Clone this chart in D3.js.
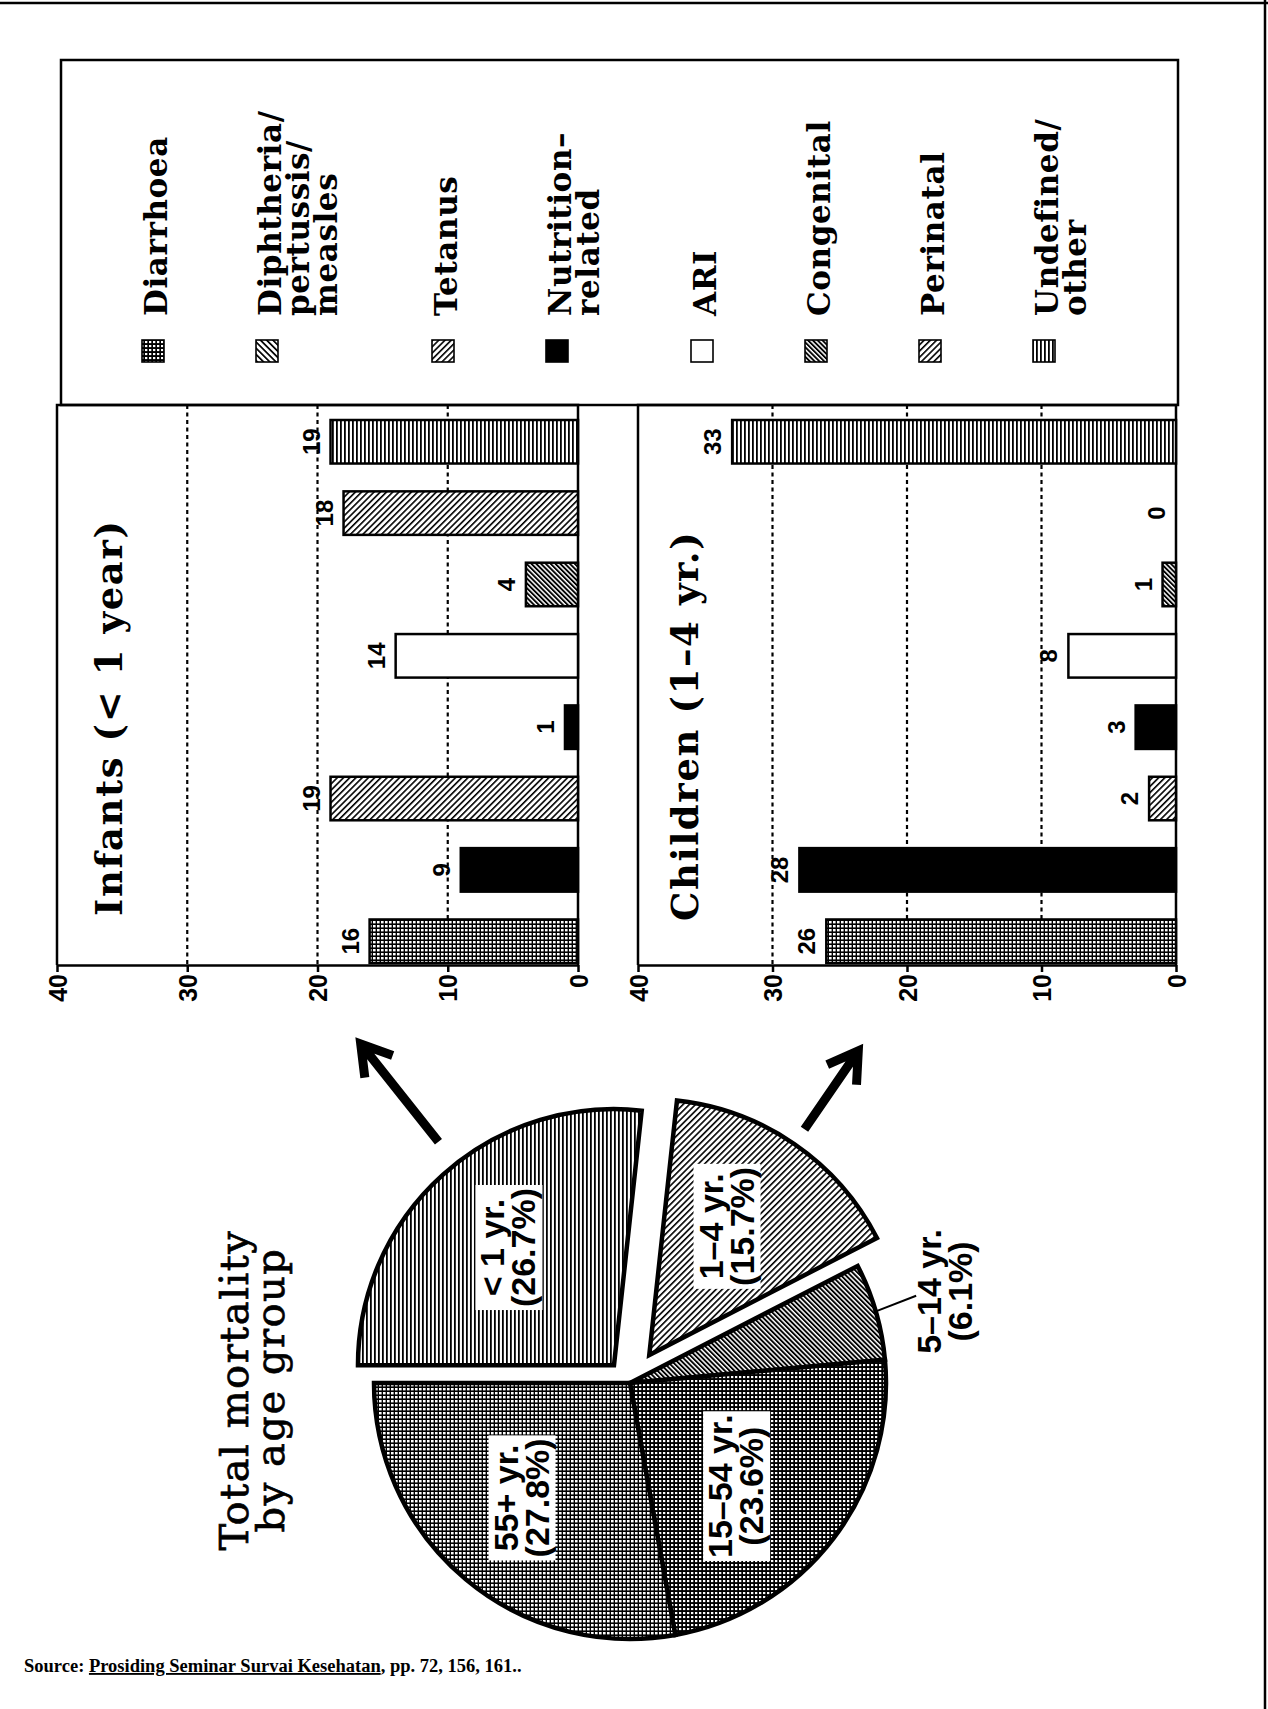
<!DOCTYPE html>
<html>
<head>
<meta charset="utf-8">
<script src="https://cdn.jsdelivr.net/npm/d3@7"></script>
<style>
  html, body { margin: 0; padding: 0; background: #fff; }
  svg { display: block; }
</style>
</head>
<body>
<svg id="chart" width="1268" height="1709"></svg>
<script>
// ---- data -------------------------------------------------------------
const causes = ["Diarrhoea", "Diphtheria/pertussis/measles", "Tetanus", "Nutrition-related",
                "ARI", "Congenital", "Perinatal", "Undefined/other"];
const causeLabelLines = [["Diarrhoea"], ["Diphtheria/", "pertussis/", "measles"], ["Tetanus"],
                         ["Nutrition–", "related"], ["ARI"], ["Congenital"], ["Perinatal"],
                         ["Undefined/", "other"]];
const infantValues = [16, 9, 19, 1, 14, 4, 18, 19];
const childValues  = [26, 28, 2, 3, 8, 1, 0, 33];
const valueTicks = [0, 10, 20, 30, 40];
const tickLabels = ["0", "10", "20", "30", "40"];
const gridValues = [10, 20, 30];

const ageGroups = ["< 1 yr.", "1–4 yr.", "5–14 yr.", "15–54 yr.", "55+ yr."];
const agePercents = [26.7, 15.7, 6.1, 23.6, 27.8];
const agePercentLabels = ["(26.7%)", "(15.7%)", "(6.1%)", "(23.6%)", "(27.8%)"];

// ---- styles -----------------------------------------------------------
const legendFills = ["url(#grid)", "url(#diagB)", "url(#diagA)", "#000", "#fff", "url(#diagDense)", "url(#diagA)", "url(#vert)"];
const barFills    = ["url(#gridLight)", "#000", "url(#diagA)", "#000", "#fff", "url(#diagDense)", "url(#diagA)", "url(#vert)"];
const sliceFills  = ["url(#vert)", "url(#diagA)", "url(#diagDense)", "url(#grid)", "url(#gridLight)"];
const serif = "'DejaVu Serif', 'Liberation Serif', serif";
const sans = "'Liberation Sans', Arial, sans-serif";

const svg = d3.select("#chart");
const defs = svg.append("defs");

function hatch(id, angle, period, width) {
  const p = defs.append("pattern").attr("id", id)
    .attr("patternUnits", "userSpaceOnUse")
    .attr("width", period).attr("height", period)
    .attr("patternTransform", `rotate(${angle})`);
  p.append("rect").attr("width", period).attr("height", period).attr("fill", "#fff");
  p.append("rect").attr("width", width).attr("height", period).attr("fill", "#000");
}
hatch("vert", 0, 4, 1.8);
hatch("diagA", 45, 4.4, 1.6);
hatch("diagB", -45, 4.4, 1.7);
hatch("diagDense", -45, 3.4, 1.9);
function grid(id, cell, hole) {
  const p = defs.append("pattern").attr("id", id)
    .attr("patternUnits", "userSpaceOnUse").attr("width", cell).attr("height", cell);
  p.append("rect").attr("width", cell).attr("height", cell).attr("fill", "#000");
  p.append("rect").attr("x", 1).attr("y", 1).attr("width", hole).attr("height", hole - 0.2).attr("fill", "#fff");
}
grid("grid", 4, 2.3);
grid("gridLight", 4, 2.6);

// ---- page frame -------------------------------------------------------
svg.append("line").attr("x1", 0).attr("x2", 1268).attr("y1", 3).attr("y2", 3)
  .attr("stroke", "#000").attr("stroke-width", 2.5);
svg.append("line").attr("x1", 1265).attr("x2", 1265).attr("y1", 0).attr("y2", 1709)
  .attr("stroke", "#000").attr("stroke-width", 2.5);

// ---- legend -----------------------------------------------------------
const legendBox = { x: 61, y: 60, w: 1117, h: 345 };
svg.append("rect").attr("x", legendBox.x).attr("y", legendBox.y)
  .attr("width", legendBox.w).attr("height", legendBox.h)
  .attr("fill", "none").attr("stroke", "#000").attr("stroke-width", 2.5);

let extraLines = 0;
causes.forEach((c, i) => {
  const sx = 142 + 114 * i + 31 * extraLines;
  extraLines += causeLabelLines[i].length - 1;
  svg.append("rect").attr("x", sx).attr("y", 340).attr("width", 22).attr("height", 22)
    .attr("fill", legendFills[i]).attr("stroke", "#000").attr("stroke-width", 1.6);
  const t = svg.append("text")
    .attr("transform", `translate(${sx + 25},316) rotate(-90)`)
    .attr("font-family", serif).attr("font-weight", "bold").attr("font-size", 31)
    .attr("letter-spacing", 0.6)
    .attr("text-anchor", "start");
  causeLabelLines[i].forEach((ln, k) => {
    t.append("tspan").attr("x", 0).attr("y", k * 28).text(ln);
  });
});

// ---- horizontal bar panels ---------------------------------------------
function panel(opts) {
  const { values, x40, x0, top, bottom, barTop, barBottom, title, titleX, titleY } = opts;
  const g = svg.append("g");
  const x = d3.scaleLinear().domain([0, 40]).range([x0, x40]);
  const y = d3.scaleBand().domain(causes).range([barBottom, barTop]).paddingInner(0.39).paddingOuter(0);

  // frame: left edge, top edge, zero baseline
  g.append("path")
    .attr("d", `M${x(40)},${bottom} V${top} H${x(0)} V${bottom}`)
    .attr("fill", "none").attr("stroke", "#000").attr("stroke-width", 2.5);

  // dotted gridlines
  g.selectAll("line.grid").data(gridValues).join("line").attr("class", "grid")
    .attr("x1", d => x(d)).attr("x2", d => x(d))
    .attr("y1", top).attr("y2", bottom)
    .attr("stroke", "#000").attr("stroke-width", 2.2).attr("stroke-dasharray", "4 3.5");

  // value axis along the bottom, labels turned to read upward
  const axis = d3.axisBottom(x).tickValues(valueTicks)
    .tickFormat(d => tickLabels[valueTicks.indexOf(d)])
    .tickSize(7).tickSizeOuter(0);
  const ag = g.append("g").attr("transform", `translate(0,${bottom})`).call(axis);
  ag.select(".domain").attr("stroke", "#000").attr("stroke-width", 2.5);
  ag.selectAll(".tick line").attr("stroke", "#000").attr("stroke-width", 2.5);
  ag.selectAll(".tick text")
    .attr("transform", "rotate(-90)")
    .attr("x", -9).attr("y", 0).attr("dy", "0.36em")
    .attr("text-anchor", "end")
    .attr("font-family", sans).attr("font-weight", "bold").attr("font-size", 25).attr("fill", "#000");

  // bars (zero-valued causes get no bar)
  g.selectAll("rect.bar").data(values.map((v, i) => ({ v, i })).filter(d => d.v > 0))
    .join("rect").attr("class", "bar")
    .attr("x", d => x(d.v)).attr("width", d => x(0) - x(d.v))
    .attr("y", d => y(causes[d.i])).attr("height", y.bandwidth())
    .attr("fill", d => barFills[d.i])
    .attr("stroke", "#000").attr("stroke-width", 2.5);

  // value labels beyond the bar ends
  g.selectAll("text.val").data(values).join("text").attr("class", "val")
    .attr("transform", (d, i) => `translate(${x(d) - 11},${y(causes[i]) + y.bandwidth() / 2}) rotate(-90)`)
    .attr("text-anchor", "middle")
    .attr("font-family", sans).attr("font-weight", "bold").attr("font-size", 24)
    .text(d => d);

  // panel title
  g.append("text")
    .attr("transform", `translate(${titleX},${titleY}) rotate(-90)`)
    .attr("text-anchor", "start")
    .attr("font-family", serif).attr("font-weight", "bold").attr("font-size", 37)
    .attr("letter-spacing", 1.6)
    .text(title);
}

panel({ values: infantValues, x40: 57, x0: 578, top: 405, bottom: 965,
        barTop: 420, barBottom: 963, title: "Infants (< 1 year)", titleX: 122, titleY: 916 });
panel({ values: childValues, x40: 638, x0: 1176, top: 405, bottom: 965,
        barTop: 420, barBottom: 963, title: "Children (1–4 yr.)", titleX: 698, titleY: 921 });

// ---- pie of total mortality by age group -------------------------------
const pieC = { x: 630, y: 1383 };
const R = 256;
const explode = [24, 34, 0, 0, 0];
const arrowLen = [125, 95, 0, 0, 0];
const labelR = [158, 150, R + 72, 148, 158];
const labelTurn = [0, -0.05, 0, 0.12, 0.06];
const pie = d3.pie().sort(null).value(d => d)
  .startAngle(-Math.PI / 2).endAngle(1.5 * Math.PI);
const arcs = pie(agePercents);
const arc = d3.arc().innerRadius(0).outerRadius(R);
const pg = svg.append("g").attr("transform", `translate(${pieC.x},${pieC.y})`);

function dir(a) { return [Math.sin(a), -Math.cos(a)]; }

arcs.forEach((a, i) => {
  const mid = (a.startAngle + a.endAngle) / 2;
  const [dx, dy] = dir(mid);
  pg.append("path").attr("d", arc(a))
    .attr("transform", `translate(${dx * explode[i]},${dy * explode[i]})`)
    .attr("fill", sliceFills[i]).attr("stroke", "#000").attr("stroke-width", 4.5)
    .attr("stroke-linejoin", "miter");
});

// arrows from the exploded slices toward their detail panels
arcs.forEach((a, i) => {
  if (!arrowLen[i]) return;
  const mid = (a.startAngle + a.endAngle) / 2 + (i === 0 ? 0.06 : 0);
  const [dx, dy] = dir(mid);
  const r0 = R + 52, r1 = R + 52 + arrowLen[i];
  const x1 = dx * r0, y1 = dy * r0, x2 = dx * r1, y2 = dy * r1;
  const back = 34, spread = 0.55;
  const ang = Math.atan2(y2 - y1, x2 - x1);
  const hx1 = x2 - back * Math.cos(ang - spread), hy1 = y2 - back * Math.sin(ang - spread);
  const hx2 = x2 - back * Math.cos(ang + spread), hy2 = y2 - back * Math.sin(ang + spread);
  pg.append("path")
    .attr("d", `M${x1},${y1} L${x2},${y2} M${hx1},${hy1} L${x2},${y2} L${hx2},${hy2}`)
    .attr("fill", "none").attr("stroke", "#000").attr("stroke-width", 9)
    .attr("stroke-linecap", "butt").attr("stroke-linejoin", "miter");
});

// slice labels on white boxes
arcs.forEach((a, i) => {
  const mid = (a.startAngle + a.endAngle) / 2 + labelTurn[i];
  const [dx, dy] = dir(mid);
  const outside = i === 2;
  const r = labelR[i] + explode[i];
  const lg = pg.append("g")
    .attr("transform", `translate(${dx * r},${dy * r}) rotate(-90)`);
  const t = lg.append("text").attr("text-anchor", "middle")
    .attr("font-family", sans).attr("font-weight", "bold").attr("font-size", 34);
  t.append("tspan").attr("x", 0).attr("y", -4).text(ageGroups[i]);
  t.append("tspan").attr("x", 0).attr("y", 27).text(agePercentLabels[i]);
  if (!outside) {
    const b = t.node().getBBox();
    lg.insert("rect", "text")
      .attr("x", b.x - 3).attr("y", b.y + 2).attr("width", b.width + 6).attr("height", b.height - 2)
      .attr("fill", "#fff");
  } else {
    const [ex, ey] = [dx * (R - 2), dy * (R - 2)];
    pg.append("line").attr("x1", ex).attr("y1", ey)
      .attr("x2", dx * (R + 42)).attr("y2", dy * (R + 42) - 4)
      .attr("stroke", "#000").attr("stroke-width", 2);
  }
});

// pie title
{
  const t = svg.append("text")
    .attr("transform", "translate(248,1390) rotate(-90)")
    .attr("text-anchor", "middle")
    .attr("font-family", serif).attr("font-size", 40)
    .attr("letter-spacing", 1.5)
    .attr("stroke", "#000").attr("stroke-width", 0.7);
  t.append("tspan").attr("x", 0).attr("y", 0).text("Total mortality");
  t.append("tspan").attr("x", 0).attr("y", 36).text("by age group");
}

// ---- source line -------------------------------------------------------
{
  const t = svg.append("text").attr("x", 24).attr("y", 1672)
    .attr("font-family", "'Liberation Serif', 'Times New Roman', serif")
    .attr("font-weight", "bold").attr("font-size", 18.5);
  t.append("tspan").text("Source: ");
  t.append("tspan").attr("text-decoration", "underline").text("Prosiding Seminar Survai Kesehatan");
  t.append("tspan").text(", pp. 72, 156, 161..");
}
</script>
</body>
</html>
